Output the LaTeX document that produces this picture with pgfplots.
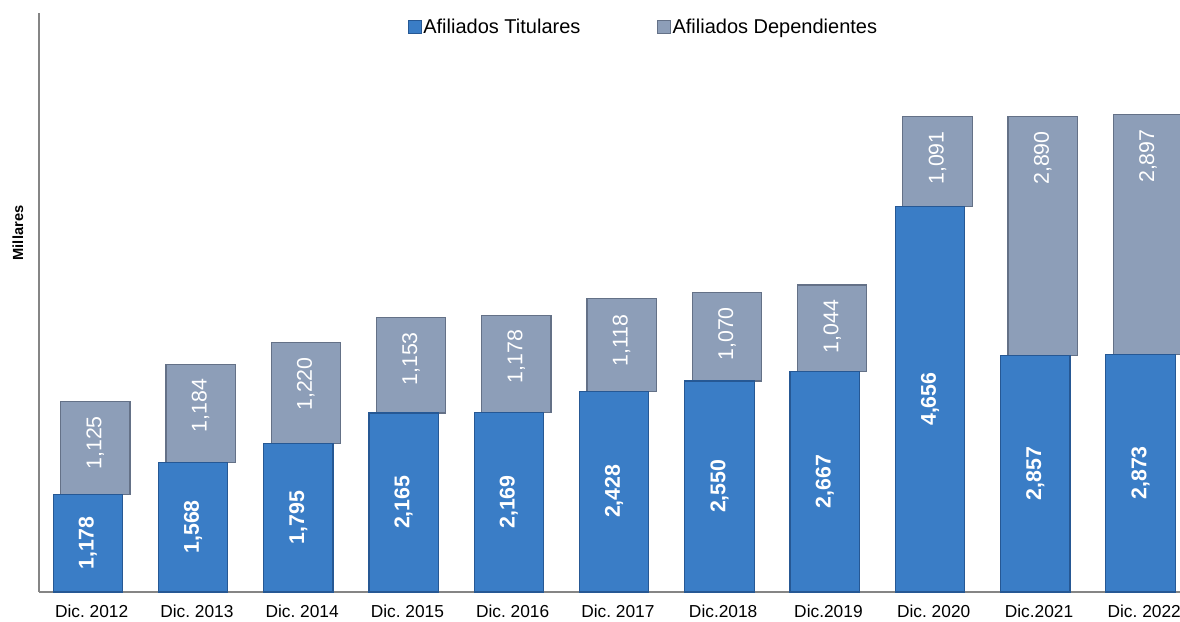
\documentclass[border=0pt]{standalone}
\usepackage{fontspec}
\setmainfont{Liberation Sans}
\usepackage{graphicx}
\usepackage{pgfplots}
\pgfplotsset{compat=1.18}
\usepackage{pgfplotstable}
\frenchspacing
\definecolor{blueM}{RGB}{58,125,198}
\definecolor{blueD}{RGB}{38,88,148}
\definecolor{grayM}{RGB}{141,158,184}
\definecolor{grayD}{RGB}{100,113,135}
\pgfplotstableread{
x tit dep
0 1178 1125
1 1568 1184
2 1795 1220
3 2165 1153
4 2169 1178
5 2428 1118
6 2550 1070
7 2667 1044
8 4656 1091
9 2857 2890
10 2873 2897
}\datatable
\pgfplotsset{
  geom/.style={at={(29.25pt,21.75pt)}, anchor=south west,
    scale only axis, width=855.75pt, height=434.25pt,
    xmin=-0.5, xmax=10.34, ymin=0, ymax=7000},
}
\begin{document}
\begin{tikzpicture}
\path[use as bounding box, clip] (0,0) rectangle (885pt,465.75pt);
\begin{axis}[
  geom,
  ybar stacked, bar width=52pt,
  axis x line*=bottom, axis y line*=left,
  axis line style={draw=black!48, line width=1.1pt, -},
  xtick={0,...,10},
  xticklabels={Dic. 2012, Dic. 2013, Dic. 2014, Dic. 2015, Dic. 2016, Dic. 2017, Dic.2018, Dic.2019, Dic. 2020, Dic.2021, Dic. 2022},
  major tick length=0pt, ytick=\empty,
  xticklabel style={font=\fontsize{13}{15}\selectfont, yshift=-6pt},
  legend style={at={(axis description cs:0.5298,0.976)}, anchor=center, draw=none, fill=none,
    font=\fontsize{15}{17}\selectfont, legend columns=2,
    /tikz/every even column/.append style={column sep=56pt},
    /tikz/every node/.append style={inner xsep=1.5pt}},
]
\addplot[fill=blueM, draw=blueD, line width=0.9pt, bar shift=-2.8pt,
  legend image code/.code={\filldraw[fill=blueM, draw=blueD, line width=0.6pt] (0pt,-4.6pt) rectangle (9.5pt,4.6pt);}
] table[x=x, y=tit] {\datatable};
\addlegendentry{Afiliados Titulares}
\addplot[fill=grayM, draw=grayD, line width=0.9pt, bar shift=2.8pt,
  legend image code/.code={\filldraw[fill=grayM, draw=grayD, line width=0.6pt] (0pt,-4.6pt) rectangle (9.5pt,4.6pt);}
] table[x=x, y=dep] {\datatable};
\addlegendentry{Afiliados Dependientes}
\end{axis}
\begin{axis}[geom, hide axis, clip=false]
\addplot[draw=none, point meta=explicit,
  nodes near coords={\rotatebox{90}{\pgfmathprintnumber[assume math mode=true, fixed, precision=0, 1000 sep={,}]{\pgfplotspointmeta}}},
  every node near coord/.style={anchor=south, inner sep=0pt, xshift=-2.8pt, yshift=-20pt, text=white, font=\bfseries\fontsize{16}{18}\selectfont}
] table[x=x, y expr=\thisrow{tit}/2, meta=tit] {\datatable};
\addplot[draw=none, point meta=explicit,
  nodes near coords={\rotatebox{90}{\pgfmathprintnumber[assume math mode=true, fixed, precision=0, 1000 sep={,}]{\pgfplotspointmeta}}},
  every node near coord/.style={anchor=south, inner sep=0pt, xshift=2.8pt, yshift=-51.25pt, text=white, font=\fontsize{16}{18}\selectfont}
] table[x=x, y expr=\thisrow{tit}+\thisrow{dep}, meta=dep] {\datatable};
\end{axis}
\node[rotate=90, font=\bfseries\fontsize{11}{13}\selectfont] at (13.5pt,291pt) {Millares};
\end{tikzpicture}
\end{document}
